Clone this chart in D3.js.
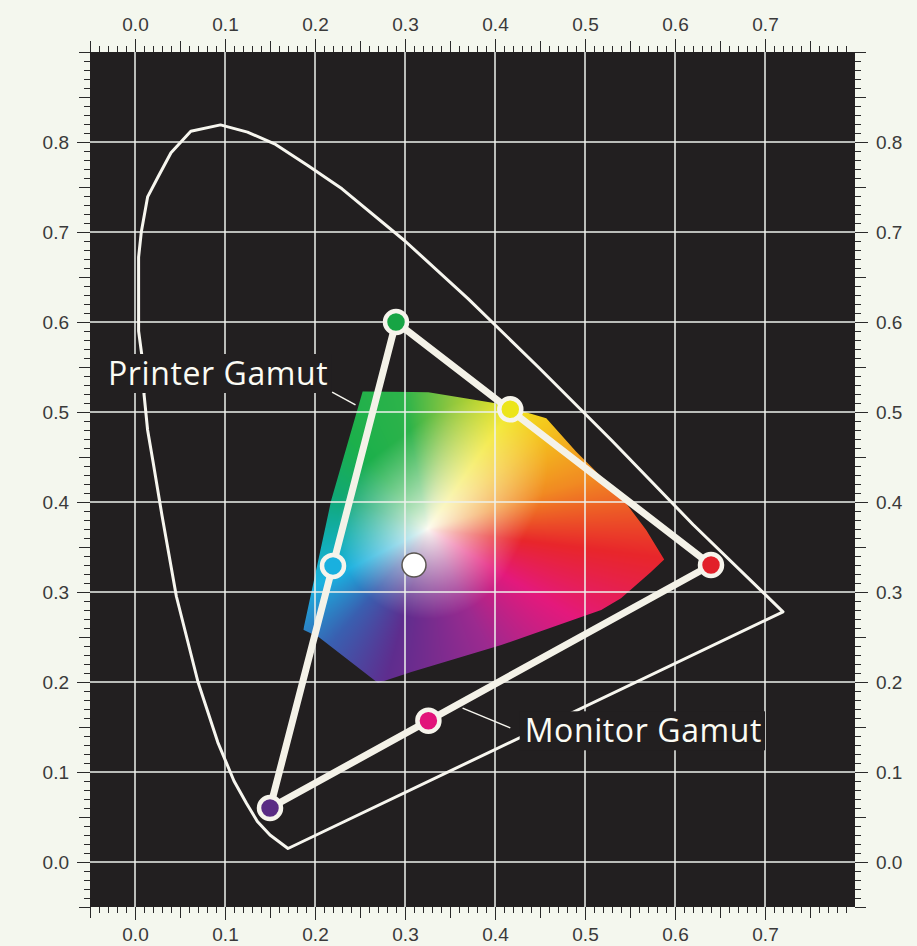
<!DOCTYPE html>
<html>
<head>
<meta charset="utf-8">
<script src="https://cdn.jsdelivr.net/npm/d3@7"></script>
<style>
  body { margin: 0; background: #f4f7ee; }
  svg { display: block; }
  .tick text { font-family: "Liberation Sans", Arial, sans-serif; font-size: 19px; fill: #3a3a3a; }
  .tick line { stroke: #2a2a2a; stroke-width: 1; }
  .domain { display: none; }
  .label { font-family: "Open Sans", "Noto Sans", sans-serif; font-size: 32px; letter-spacing: 0.6px; fill: #fbfbf4; }
</style>
</head>
<body>
<svg id="chart" width="917" height="946"></svg>
<script>
// spectral locus, closed by the purple line
var locusX = [0.170, 0.150, 0.136, 0.124, 0.110, 0.092, 0.070, 0.046, 0.030, 0.020, 0.014, 0.010, 0.008, 0.004, 0.004, 0.004, 0.007, 0.014, 0.026, 0.040, 0.062, 0.095, 0.125, 0.155, 0.192, 0.230, 0.300, 0.370, 0.448, 0.530, 0.620, 0.720];
var locusY = [0.015, 0.030, 0.045, 0.065, 0.090, 0.133, 0.200, 0.295, 0.385, 0.445, 0.480, 0.520, 0.560, 0.590, 0.640, 0.672, 0.700, 0.739, 0.762, 0.788, 0.812, 0.819, 0.811, 0.798, 0.774, 0.748, 0.690, 0.626, 0.550, 0.468, 0.375, 0.278];

// printer gamut outline
var printerX = [0.253, 0.326, 0.399, 0.457, 0.490, 0.540, 0.568, 0.588, 0.573, 0.540, 0.518, 0.407, 0.307, 0.270, 0.204, 0.187, 0.218];
var printerY = [0.523, 0.522, 0.510, 0.493, 0.456, 0.406, 0.369, 0.336, 0.322, 0.293, 0.280, 0.241, 0.211, 0.199, 0.250, 0.258, 0.402];

// monitor gamut primaries (G, R, B)
var monitorX = [0.29, 0.64, 0.15];
var monitorY = [0.60, 0.33, 0.06];

// marked points
var dotNames = ["green", "yellow", "red", "magenta", "purple", "cyan"];
var dotX = [0.29, 0.417, 0.64, 0.326, 0.15, 0.22];
var dotY = [0.60, 0.503, 0.33, 0.157, 0.06, 0.329];
var whiteX = 0.31, whiteY = 0.33;

var majorX = [0, 0.1, 0.2, 0.3, 0.4, 0.5, 0.6, 0.7];
var majorY = [0, 0.1, 0.2, 0.3, 0.4, 0.5, 0.6, 0.7, 0.8];

var labels = ["Printer Gamut", "Monitor Gamut"];
var labelX = [-0.03, 0.433];
var labelY = [0.53, 0.133];
var leaderX1 = [0.219, 0.364], leaderY1 = [0.522, 0.171];
var leaderX2 = [0.245, 0.417], leaderY2 = [0.508, 0.149];

var dotColor = {green: "#17a444", yellow: "#ece51a", red: "#e2202a", magenta: "#e2137a", purple: "#5a2b84", cyan: "#19b0df"};

// hue wheel of the printed fill, by angle (deg) round the pale centre
var hueAngles = [-105, -63, -31, -7, 17, 40, 55, 80, 100, 130, 160, 185, 207, 230, 255];
var hueColors = ["#5f2d8e", "#9c2a8f", "#e4197c", "#e8262b", "#f18a22", "#f4c41d", "#f2e61c", "#8cc63f", "#2db34a", "#1cb04b", "#11a874", "#11aeb0", "#1bb1e0", "#3a5fb0", "#5f2d8e"];
var paleX = 0.325, paleY = 0.37;

var svg = d3.select("#chart");
var x = d3.scaleLinear().domain([-0.05, 0.8]).range([90, 855]);
var y = d3.scaleLinear().domain([-0.05, 0.9]).range([907, 52]);

var fmt = d3.format(".1f");
var hundredths = function(a, b) { return d3.range(a, b + 1).map(function(i) { return i / 100; }); };
var ticksX = hundredths(-5, 79), ticksY = hundredths(-5, 90);
var midX = ticksX.filter(function(v) { return Math.round(v * 100) % 5 == 0; });
var midY = ticksY.filter(function(v) { return Math.round(v * 100) % 5 == 0; });

svg.append("rect")
  .attr("x", x(-0.05)).attr("y", y(0.9))
  .attr("width", x(0.8) - x(-0.05)).attr("height", y(-0.05) - y(0.9))
  .attr("fill", "#221f20");

// axes: minor / mid / major layers
function axisSet(make, scale, tr, minor, mid, major) {
  svg.append("g").attr("transform", tr).call(make(scale).tickValues(minor).tickSize(6).tickFormat(""));
  svg.append("g").attr("transform", tr).call(make(scale).tickValues(mid).tickSize(11).tickFormat(""));
  svg.append("g").attr("transform", tr).call(make(scale).tickValues(major).tickSize(13).tickPadding(8).tickFormat(fmt));
}
axisSet(d3.axisTop, x, "translate(0," + y(0.9) + ")", ticksX, midX, majorX);
axisSet(d3.axisBottom, x, "translate(0," + y(-0.05) + ")", ticksX, midX, majorX);
axisSet(d3.axisLeft, y, "translate(" + x(-0.05) + ",0)", ticksY, midY, majorY);
axisSet(d3.axisRight, y, "translate(" + x(0.8) + ",0)", ticksY, midY, majorY);
svg.selectAll(".tick text").filter(function() { return this.textContent == ""; }).remove();

// printer gamut fill: hue by direction, paler towards the centre
var hueScale = d3.scaleLinear().domain(hueAngles).range(hueColors).interpolate(d3.interpolateRgb).clamp(true);
function fillColor(cx, cy) {
  var dx = cx - paleX, dy = cy - paleY;
  var a = Math.atan2(dy, dx) * 180 / Math.PI;
  if (a < -105) a += 360;
  var d = Math.sqrt(dx * dx + dy * dy);
  var R = 0.1 + 0.07 * Math.pow(Math.max(0, Math.cos((a - 50) * Math.PI / 180)), 4);
  var s = Math.pow(Math.min(1, d / R), 0.85);
  return d3.rgb(d3.interpolateRgb("#fdfcf4", hueScale(a))(s));
}
var px0 = x(d3.min(printerX)), px1 = x(d3.max(printerX));
var py0 = y(d3.max(printerY)), py1 = y(d3.min(printerY));
var cw = Math.ceil(px1 - px0), ch = Math.ceil(py1 - py0);
var canvas = document.createElement("canvas");
canvas.width = cw; canvas.height = ch;
var ctx = canvas.getContext("2d");
var img = ctx.createImageData(cw, ch);
for (var j = 0; j < ch; j++) {
  for (var i = 0; i < cw; i++) {
    var c = fillColor(x.invert(px0 + i + 0.5), y.invert(py0 + j + 0.5));
    var o = (j * cw + i) * 4;
    img.data[o] = c.r; img.data[o + 1] = c.g; img.data[o + 2] = c.b; img.data[o + 3] = 255;
  }
}
ctx.putImageData(img, 0, 0);

var printerPts = printerX.map(function(v, i) { return [x(v), y(printerY[i])]; });
svg.append("clipPath").attr("id", "printerClip")
  .append("polygon").attr("points", printerPts.join(" "));
svg.append("image")
  .attr("x", px0).attr("y", py0).attr("width", cw).attr("height", ch)
  .attr("href", canvas.toDataURL())
  .attr("clip-path", "url(#printerClip)");

// grid
svg.append("g").selectAll("line").data(majorX).join("line")
  .attr("x1", function(d) { return x(d); }).attr("x2", function(d) { return x(d); })
  .attr("y1", y(0.9)).attr("y2", y(-0.05))
  .attr("stroke", "#eef2ec").attr("stroke-width", 1.5);
svg.append("g").selectAll("line").data(majorY).join("line")
  .attr("y1", function(d) { return y(d); }).attr("y2", function(d) { return y(d); })
  .attr("x1", x(-0.05)).attr("x2", x(0.8))
  .attr("stroke", "#eef2ec").attr("stroke-width", 1.5);

// spectral locus
var line = d3.line().x(function(d) { return x(d[0]); }).y(function(d) { return y(d[1]); }).curve(d3.curveLinearClosed);
svg.append("path")
  .datum(locusX.map(function(v, i) { return [v, locusY[i]]; }))
  .attr("d", line)
  .attr("fill", "none").attr("stroke", "#f7f6ef").attr("stroke-width", 3)
  .attr("stroke-linejoin", "round");

// labels with knockout
var lab = svg.append("g").selectAll("g").data(labels).join("g");
lab.append("text").attr("class", "label")
  .attr("x", function(d, i) { return x(labelX[i]); })
  .attr("y", function(d, i) { return y(labelY[i]); })
  .text(function(d) { return d; });
lab.each(function() {
  var g = d3.select(this), bb = g.select("text").node().getBBox();
  g.insert("rect", "text")
    .attr("x", bb.x - 5).attr("y", bb.y + 3)
    .attr("width", bb.width + 8).attr("height", bb.height - 4)
    .attr("fill", "#221f20");
});
svg.append("g").selectAll("line").data(labels).join("line")
  .attr("x1", function(d, i) { return x(leaderX1[i]); }).attr("y1", function(d, i) { return y(leaderY1[i]); })
  .attr("x2", function(d, i) { return x(leaderX2[i]); }).attr("y2", function(d, i) { return y(leaderY2[i]); })
  .attr("stroke", "#f7f6ef").attr("stroke-width", 1.5);

// monitor gamut triangle
svg.append("path")
  .datum(monitorX.map(function(v, i) { return [v, monitorY[i]]; }))
  .attr("d", line)
  .attr("fill", "none").attr("stroke", "#f4f2e8").attr("stroke-width", 7)
  .attr("stroke-linejoin", "round");

svg.append("g").selectAll("circle").data(dotNames).join("circle")
  .attr("cx", function(d, i) { return x(dotX[i]); })
  .attr("cy", function(d, i) { return y(dotY[i]); })
  .attr("r", 11)
  .attr("fill", function(d) { return dotColor[d]; })
  .attr("stroke", "#f6f4ec").attr("stroke-width", 4.5);

svg.append("circle")
  .attr("cx", x(whiteX)).attr("cy", y(whiteY)).attr("r", 12)
  .attr("fill", "#ffffff").attr("stroke", "#5a5550").attr("stroke-width", 1.5);
</script>
</body>
</html>
